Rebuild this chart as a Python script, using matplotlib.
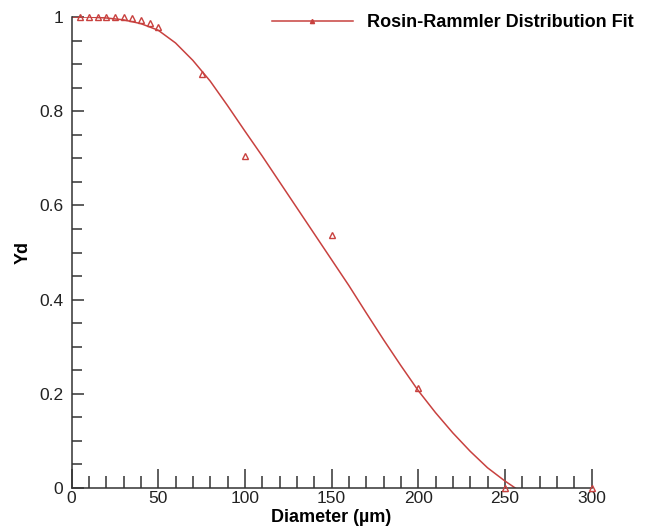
import matplotlib
matplotlib.use("Agg")
import matplotlib.pyplot as plt
from matplotlib.ticker import MultipleLocator
from matplotlib.lines import Line2D

plt.rcParams['font.family'] = ['Liberation Sans', 'DejaVu Sans']

# measured points (diameter in um, Yd)
diam_pts = [5, 10, 15, 20, 25, 30, 35, 40, 45, 50, 75, 100, 150, 200, 250, 300]
yd_pts = [1.0, 1.0, 1.0, 1.0, 1.0, 1.0, 0.997, 0.993, 0.987, 0.978,
          0.88, 0.705, 0.537, 0.212, 0.0, 0.0]

# fit curve
diam_fit = [0, 10, 20, 30, 40, 50, 60, 70, 80, 90, 100, 110, 120, 130, 140,
            150, 160, 170, 180, 190, 200, 210, 220, 230, 240, 250, 256]
yd_fit = [1.0, 1.0, 0.998, 0.994, 0.986, 0.972, 0.945, 0.908, 0.864, 0.812,
          0.758, 0.705, 0.65, 0.595, 0.54, 0.485, 0.43, 0.372, 0.315, 0.26,
          0.207, 0.16, 0.117, 0.078, 0.043, 0.015, 0.0]

red = '#c8413f'
dark = '#333333'

fig = plt.figure(figsize=(6.5, 5.32), dpi=100)
ax = fig.add_axes([0.110, 0.0827, 0.80, 0.8853])

ax.plot(diam_fit, yd_fit, color=red, lw=1.1, zorder=2)
ax.plot(diam_pts, yd_pts, ls='none', marker='^', ms=5, mfc='none',
        mec=red, mew=1.0, zorder=3, clip_on=False)

ax.set_xlim(0, 300)
ax.set_ylim(0, 1)

ax.spines['top'].set_visible(False)
ax.spines['right'].set_visible(False)
for s in ['left', 'bottom']:
    ax.spines[s].set_color(dark)
    ax.spines[s].set_linewidth(1.1)

ax.xaxis.set_major_locator(MultipleLocator(50))
ax.xaxis.set_minor_locator(MultipleLocator(10))
ax.yaxis.set_major_locator(MultipleLocator(0.2))
ax.yaxis.set_minor_locator(MultipleLocator(0.05))
ax.set_yticks([0, 0.2, 0.4, 0.6, 0.8, 1.0])
ax.set_yticklabels(['0', '0.2', '0.4', '0.6', '0.8', '1'])

ax.tick_params(axis='x', which='major', direction='in', length=14, width=1.1,
               color=dark, labelsize=12.5, labelcolor='#222222', pad=2)
ax.tick_params(axis='x', which='minor', direction='in', length=9, width=1.1,
               color=dark)
ax.tick_params(axis='y', which='major', direction='in', length=8.5, width=1.1,
               color=dark, labelsize=12.5, labelcolor='#222222', pad=6)
ax.tick_params(axis='y', which='minor', direction='in', length=7, width=1.1,
               color=dark)

ax.set_xlabel('Diameter (µm)', fontsize=13, fontweight='bold', labelpad=2.5)
ax.set_ylabel('Yd', fontsize=13, fontweight='bold', labelpad=5)

handle = Line2D([], [], color=red, lw=1.1, marker='^', ms=3, mfc=red, mec=red)
ax.legend([handle], ['Rosin-Rammler Distribution Fit'], loc='upper right',
          bbox_to_anchor=(1.113, 1.04), frameon=False, handlelength=4.5,
          handletextpad=0.8, markerfirst=True,
          prop={'weight': 'bold', 'size': 13})

fig.savefig('out.png', dpi=100)
